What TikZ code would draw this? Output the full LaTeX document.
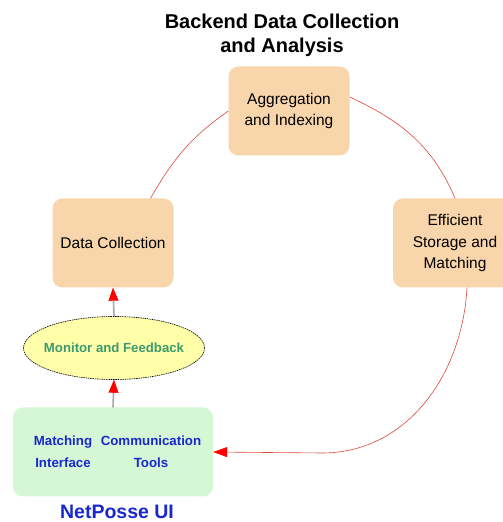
\documentclass[tikz,border=0pt]{standalone}
\usepackage{fontspec}
\setmainfont{Liberation Sans}
\usetikzlibrary{shapes.geometric,arrows.meta}
\definecolor{peach}{RGB}{248,213,170}
\definecolor{mint}{RGB}{214,247,214}
\definecolor{lemon}{RGB}{255,255,170}
\definecolor{arcred}{RGB}{222,70,60}
\definecolor{uiblue}{RGB}{25,40,205}
\definecolor{fbgreen}{RGB}{60,155,110}
\begin{document}
\begin{tikzpicture}[x=1pt,y=1pt,
  stage/.style={rectangle,rounded corners=10pt,fill=peach,minimum width=121pt,minimum height=89pt,align=center,font=\fontsize{15.5}{20.5}\selectfont},
  flow/.style={draw=arcred,line width=0.6pt},
  feed/.style={draw=gray!70,line width=1.6pt,-{Triangle[length=13pt,width=10pt,color=red,fill=red,line width=0.4pt]}},
  uitext/.style={text=uiblue,align=center,font=\bfseries\fontsize{13.3}{22}\selectfont}]
\clip (0,0) rectangle (503,522);
\node [align=center,font=\bfseries\fontsize{20}{24}\selectfont] (title) at (282,487) {Backend Data Collection\\and Analysis};
\node [stage] (agg) at (289,411) {Aggregation\\and Indexing};
\node [stage] (dc) at (113,279) {Data Collection};
\node [stage,minimum width=124pt,font=\fontsize{15.5}{21.5}\selectfont] (eff) at (455,279) {Efficient\\Storage and\\Matching};
\node [ellipse,draw=black,dash pattern=on 1.5pt off 0.8pt,line width=0.6pt,fill=lemon,minimum width=181pt,minimum height=63pt,inner sep=0pt,text=fbgreen,font=\bfseries\fontsize{13.2}{16}\selectfont] (mon) at (114,174) {\makebox[90pt]{Monitor and Feedback}};
\node [rectangle,rounded corners=10pt,fill=mint,minimum width=200pt,minimum height=89pt] (ui) at (113,70) {};
\node [uitext] (match) at (63,70) {Matching\\Interface};
\node [uitext] (comm) at (151,70) {Communication\\Tools};
\node [text=uiblue,font=\bfseries\fontsize{19.5}{22}\selectfont] (uiname) at (117,10) {NetPosse UI};
\coordinate (turn) at (322,69);

\draw [flow] (dc.50) to[out=60,in=215] (agg.west);
\draw [flow] (agg.13) to[out=-25,in=113] (eff.north);
\draw [flow,-{Triangle[length=14pt,width=10pt,color=red,fill=red,line width=0.4pt]}] (eff.-75) to[out=-93,in=0] (turn) -- (ui.east);
\draw [feed] (ui.north) -- (mon.south);
\draw [feed] (mon.north) -- (dc.south);
\end{tikzpicture}
\end{document}
